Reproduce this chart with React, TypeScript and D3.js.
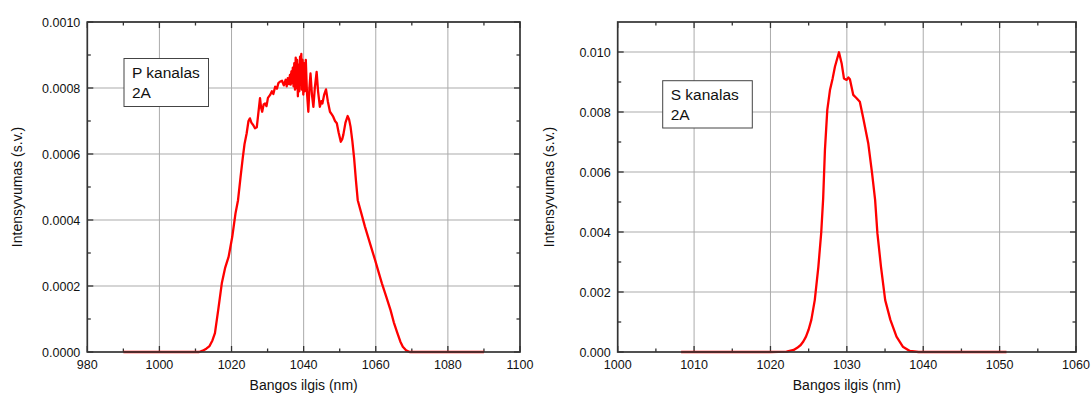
import React from "react";
import * as d3 from "d3";

// ---------- DATA ----------
const P_WAVELENGTH = [
  990, 1000, 1011, 1012, 1013, 1013.9, 1014.7, 1015.4, 1016.3, 1017.3, 1018.2, 1019.2, 1020.2, 1021.1, 1021.8,
  1022.5, 1023.1, 1023.6, 1024.2, 1024.7, 1025.1, 1025.5, 1026.0, 1026.5, 1027.0, 1027.4, 1027.9, 1028.2, 1028.5,
  1028.9, 1029.3, 1029.7, 1030.1, 1030.7, 1031.2, 1031.6, 1032.1, 1032.6, 1033.0, 1033.4, 1034.0, 1034.5,
  1035.0, 1035.3, 1035.6, 1035.9, 1036.2, 1036.4, 1036.6, 1036.8, 1037.0, 1037.2, 1037.4, 1037.6, 1037.8, 1038.0,
  1038.2, 1038.4, 1038.6, 1038.8, 1039.0, 1039.2, 1039.35, 1039.5, 1039.7, 1039.9, 1040.1, 1040.3, 1040.6, 1040.9,
  1041.3, 1041.6, 1041.9, 1042.3, 1042.7, 1043.1, 1043.6, 1044.0, 1044.5, 1044.9,
  1045.2, 1045.7, 1046.2, 1046.7, 1047.3, 1047.8, 1048.2, 1048.7, 1049.2, 1049.7, 1050.3, 1050.7, 1051.0, 1051.6,
  1052.2, 1052.6, 1053.0, 1053.5, 1054.0, 1054.5, 1055.0, 1056.0, 1057.0, 1058.4, 1059.8, 1060.7, 1061.7, 1062.9,
  1064.1, 1065.0, 1066.0, 1066.8, 1067.5, 1068.4, 1069.4, 1080, 1090,
];
const P_INTENSITY = [
  0, 0, 0, 0.000004, 0.00001, 0.000018, 0.000035, 0.000057, 0.000127, 0.000208, 0.000254, 0.000289, 0.000349, 0.00042, 0.00046,
  0.00053, 0.000587, 0.00063, 0.000663, 0.0007, 0.000708, 0.000695, 0.000688, 0.000678, 0.000681, 0.00072, 0.000769, 0.00074, 0.000728,
  0.00075, 0.000753, 0.000745, 0.00077, 0.000779, 0.00079, 0.000782, 0.000804, 0.000798, 0.000815, 0.000819, 0.000822, 0.000808,
  0.000825, 0.000805, 0.00083, 0.000812, 0.00084, 0.00081, 0.00085, 0.000815, 0.000862, 0.000805, 0.000875, 0.000795, 0.000892, 0.0008,
  0.000885, 0.000775, 0.00087, 0.00079, 0.000895, 0.00081, 0.000903, 0.000795, 0.000885, 0.00078, 0.000875, 0.00079, 0.000885, 0.00079,
  0.000728, 0.0008, 0.000844, 0.00078, 0.000743, 0.0008, 0.000849, 0.00079, 0.000743, 0.00076,
  0.000753, 0.00078, 0.000796, 0.00076, 0.000728, 0.00072, 0.000713, 0.0007, 0.000693, 0.000665, 0.000637, 0.000645, 0.000658, 0.000695,
  0.000715, 0.000705, 0.000683, 0.00064, 0.000587, 0.00052, 0.00046, 0.00042, 0.00038, 0.000329, 0.000279, 0.000245, 0.000208, 0.000168,
  0.000127, 0.00009, 0.000057, 0.000032, 0.000016, 0.000005, 0, 0, 0,
];

const S_WAVELENGTH = [
  1008.3, 1015, 1020, 1022.1, 1023.04, 1023.5, 1023.96, 1024.3, 1024.65, 1025.0, 1025.35, 1025.8, 1026.27, 1026.64,
  1026.9, 1027.13, 1027.44, 1027.79, 1028.14, 1028.44, 1028.97, 1029.32, 1029.62, 1029.97, 1030.2, 1030.4, 1030.84,
  1031.28, 1031.7, 1032.15, 1032.8, 1033.3, 1033.7, 1034.0, 1034.47, 1035.02, 1035.7, 1036.5, 1037.33, 1038.25,
  1039.4, 1045, 1050.9,
];
const S_INTENSITY = [
  0, 0, 0, 0.00001, 0.000067, 0.00014, 0.000233, 0.00035, 0.000511, 0.00075, 0.00107, 0.00173, 0.00284, 0.00396,
  0.00512, 0.00673, 0.00807, 0.00873, 0.00912, 0.00951, 0.00999, 0.00962, 0.00912, 0.00907, 0.00915, 0.00909, 0.00857,
  0.00846, 0.00834, 0.00779, 0.00696, 0.00596, 0.00507, 0.00396, 0.00284, 0.00173, 0.00107, 0.000511, 0.000178, 0.000033,
  0, 0, 0,
];

const P_X_TICKS = [980, 1000, 1020, 1040, 1060, 1080, 1100];
const P_X_MINOR = [990, 1010, 1030, 1050, 1070, 1090];
const P_Y_TICKS = [0, 0.0002, 0.0004, 0.0006, 0.0008, 0.001];
const P_Y_LABELS = ["0.0000", "0.0002", "0.0004", "0.0006", "0.0008", "0.0010"];
const P_Y_MINOR = [0.0001, 0.0003, 0.0005, 0.0007, 0.0009];

const S_X_TICKS = [1000, 1010, 1020, 1030, 1040, 1050, 1060];
const S_X_MINOR = [1005, 1015, 1025, 1035, 1045, 1055];
const S_Y_TICKS = [0, 0.002, 0.004, 0.006, 0.008, 0.01];
const S_Y_LABELS = ["0.000", "0.002", "0.004", "0.006", "0.008", "0.010"];
const S_Y_MINOR = [0.001, 0.003, 0.005, 0.007, 0.009];

const X_TITLE = "Bangos ilgis (nm)";
const Y_TITLE = "Intensyvumas (s.v.)";

const FONT = "'Liberation Sans', Arial, sans-serif";

type PanelProps = {
  left: number; right: number; top: number; bottom: number;
  xDomain: [number, number]; yDomain: [number, number];
  xs: number[]; ys: number[];
  xTicks: number[]; xMinor: number[];
  yTicks: number[]; yLabels: string[]; yMinor: number[];
  legend: string[]; legendBox: { x: number; y: number; w: number; h: number };
  yTitleX: number;
};

function Panel(p: PanelProps) {
  const x = d3.scaleLinear().domain(p.xDomain).range([p.left, p.right]);
  const y = d3.scaleLinear().domain(p.yDomain).range([p.bottom, p.top]);
  const data = p.xs.map((v, i) => [v, p.ys[i]] as [number, number]);
  const line = d3.line<[number, number]>().x((d) => x(d[0])).y((d) => y(d[1]));
  const major = 6, minor = 3.5;
  const axisColor = "#333";
  const gridColor = "#ababab";
  return (
    <g>
      {p.xTicks.slice(1, -1).map((t) => (
        <line key={"gx" + t} x1={x(t)} x2={x(t)} y1={p.top} y2={p.bottom} stroke={gridColor} strokeWidth={1} />
      ))}
      {p.yTicks.slice(1).map((t) => (
        <line key={"gy" + t} x1={p.left} x2={p.right} y1={y(t)} y2={y(t)} stroke={gridColor} strokeWidth={1} />
      ))}
      <rect x={p.legendBox.x} y={p.legendBox.y} width={p.legendBox.w} height={p.legendBox.h} fill="#fff" stroke="#444" strokeWidth={1} />
      {p.legend.map((s, i) => (
        <text key={s} x={p.legendBox.x + 8} y={p.legendBox.y + 19 + i * 20.5} fontFamily={FONT} fontSize={15.5} fill="#111">{s}</text>
      ))}
      {p.xTicks.map((t) => (
        <g key={"tx" + t}>
          <line x1={x(t)} x2={x(t)} y1={p.bottom} y2={p.bottom - major} stroke={axisColor} strokeWidth={1.3} />
          <line x1={x(t)} x2={x(t)} y1={p.top} y2={p.top + major} stroke={axisColor} strokeWidth={1.3} />
          <text x={x(t)} y={p.bottom + 17} textAnchor="middle" fontFamily={FONT} fontSize={12.5} fill="#111">{t}</text>
        </g>
      ))}
      {p.xMinor.map((t) => (
        <g key={"mx" + t}>
          <line x1={x(t)} x2={x(t)} y1={p.bottom} y2={p.bottom - minor} stroke={axisColor} strokeWidth={1.3} />
          <line x1={x(t)} x2={x(t)} y1={p.top} y2={p.top + minor} stroke={axisColor} strokeWidth={1.3} />
        </g>
      ))}
      {p.yTicks.map((t, i) => (
        <g key={"ty" + t}>
          <line x1={p.left} x2={p.left + major} y1={y(t)} y2={y(t)} stroke={axisColor} strokeWidth={1.3} />
          <line x1={p.right} x2={p.right - major} y1={y(t)} y2={y(t)} stroke={axisColor} strokeWidth={1.3} />
          <text x={p.left - 7} y={y(t) + 4.5} textAnchor="end" fontFamily={FONT} fontSize={12.5} fill="#111">{p.yLabels[i]}</text>
        </g>
      ))}
      {p.yMinor.map((t) => (
        <g key={"my" + t}>
          <line x1={p.left} x2={p.left + minor} y1={y(t)} y2={y(t)} stroke={axisColor} strokeWidth={1.3} />
          <line x1={p.right} x2={p.right - minor} y1={y(t)} y2={y(t)} stroke={axisColor} strokeWidth={1.3} />
        </g>
      ))}
      <path d={line(data) || ""} fill="none" stroke="#ff0000" strokeWidth={2.3} strokeLinejoin="round" />
      <rect x={p.left} y={p.top} width={p.right - p.left} height={p.bottom - p.top} fill="none" stroke={axisColor} strokeWidth={1.7} />
      <text x={(p.left + p.right) / 2} y={p.bottom + 38} textAnchor="middle" fontFamily={FONT} fontSize={14} fill="#111">{X_TITLE}</text>
      <text transform={`translate(${p.yTitleX},${(p.top + p.bottom) / 2}) rotate(-90)`} textAnchor="middle" fontFamily={FONT} fontSize={14} fill="#111">{Y_TITLE}</text>
    </g>
  );
}

export default function App() {
  return (
    <svg width={1092} height={394} style={{ position: "absolute", left: 0, top: 0, background: "#fff" }}>
      <rect width={1092} height={394} fill="#fff" />
      <Panel
        left={87.3} right={520} top={22} bottom={352}
        xDomain={[980, 1100]} yDomain={[0, 0.001]}
        xs={P_WAVELENGTH} ys={P_INTENSITY}
        xTicks={P_X_TICKS} xMinor={P_X_MINOR}
        yTicks={P_Y_TICKS} yLabels={P_Y_LABELS} yMinor={P_Y_MINOR}
        legend={["P kanalas", "2A"]} legendBox={{ x: 124, y: 58.5, w: 84.5, h: 48 }}
        yTitleX={22}
      />
      <Panel
        left={617.7} right={1076} top={22} bottom={352}
        xDomain={[1000, 1060]} yDomain={[0, 0.011]}
        xs={S_WAVELENGTH} ys={S_INTENSITY}
        xTicks={S_X_TICKS} xMinor={S_X_MINOR}
        yTicks={S_Y_TICKS} yLabels={S_Y_LABELS} yMinor={S_Y_MINOR}
        legend={["S kanalas", "2A"]} legendBox={{ x: 662.7, y: 80.7, w: 89.6, h: 47.3 }}
        yTitleX={554}
      />
    </svg>
  );
}
